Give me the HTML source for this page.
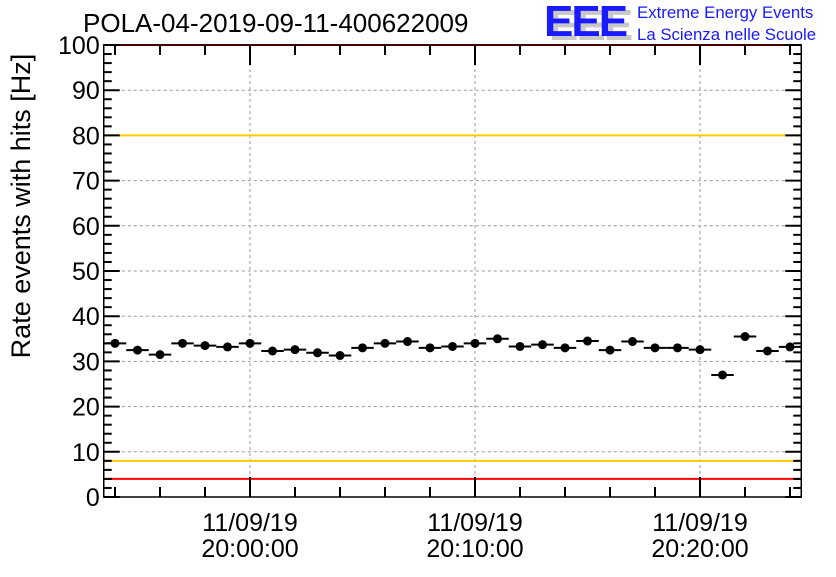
<!DOCTYPE html>
<html><head><meta charset="utf-8"><style>
body{margin:0;background:#fff;}
svg text{font-family:"Liberation Sans",sans-serif;}
</style></head><body>
<svg id="c" width="836" height="572" xmlns="http://www.w3.org/2000/svg">
<rect width="836" height="572" fill="#fff"/>
<text x="83" y="32" font-size="26">POLA-04-2019-09-11-400622009</text>
<g>
<text x="549" y="40" font-size="44" font-weight="bold" fill="#c8c8c8" letter-spacing="-2">EEE</text>
<text x="544" y="36" font-size="44" font-weight="bold" fill="#1a1aff" letter-spacing="-2">EEE</text>
<text x="637" y="18" font-size="16.8" fill="#1a1aff">Extreme Energy Events</text>
<text x="637" y="40" font-size="16.8" fill="#1a1aff">La Scienza nelle Scuole</text>
</g>
<text transform="translate(30,206) rotate(-90)" text-anchor="middle" font-size="27">Rate events with hits [Hz]</text>
<g id="grid"></g><g id="marks"></g><g id="axes"></g>
</svg>
<script>
const minutes=[-6,-5,-4,-3,-2,-1,0,1,2,3,4,5,6,7,8,9,10,11,12,13,14,15,16,17,18,19,20,21,22,23,24];
const rates=[34,32.5,31.5,34,33.5,33.2,34,32.3,32.6,31.9,31.3,33,34,34.4,33,33.3,34,35,33.3,33.7,33,34.5,32.5,34.4,33,33,32.6,27,35.5,32.3,33.2];
const yTicks=[0,10,20,30,40,50,60,70,80,90,100];
const xTickMinutes=[0,10,20];
const xTickLabels=["20:00:00","20:10:00","20:20:00"];
const xDateLabel="11/09/19";
const refLines=[{v:100,c:"#ff0000"},{v:80,c:"#ffcc00"},{v:8,c:"#ffcc00"},{v:4,c:"#ff0000"}];
const L=103.75,R=801.25,T=45,B=497,xmin=-6.5,xmax=24.5;
const X=t=>L+(t-xmin)/(xmax-xmin)*(R-L);
const Y=v=>B-v/100*(B-T);
const NS="http://www.w3.org/2000/svg";
function mk(p,tag,at){const e=document.createElementNS(NS,tag);for(const k in at)e.setAttribute(k,at[k]);p.appendChild(e);return e;}
const grid=document.getElementById('grid'),marks=document.getElementById('marks'),axes=document.getElementById('axes');
yTicks.forEach(v=>{if(v>0&&v<100){const l=mk(grid,'line',{x1:L,x2:R,y1:Y(v),y2:Y(v),stroke:'#999','stroke-dasharray':'3,3','stroke-width':1});

}});
xTickMinutes.forEach(t=>{const l=mk(grid,'line',{x1:X(t),x2:X(t),y1:T,y2:B,stroke:'#999','stroke-dasharray':'3,3','stroke-width':1});

});
refLines.forEach(r=>{const l=mk(grid,'line',{x1:L,x2:R,y1:Y(r.v),y2:Y(r.v),stroke:r.c,'stroke-width':2});

});
minutes.forEach((t,i)=>{const g=mk(marks,'g',{});


mk(g,'line',{x1:X(t-0.5),x2:X(t+0.5),y1:Y(rates[i]),y2:Y(rates[i]),stroke:'#000','stroke-width':2});
mk(g,'circle',{cx:X(t),cy:Y(rates[i]),r:4.5,fill:'#000'});});
const f=mk(axes,'rect',{x:L,y:T,width:R-L,height:B-T,fill:'none',stroke:'#000','stroke-width':1.5});


for(let v=0;v<=100;v+=2){const major=v%10===0,len=major?16:8;
mk(axes,'line',{x1:L,x2:L+len,y1:Y(v),y2:Y(v),stroke:'#000','stroke-width':2});
mk(axes,'line',{x1:R-len,x2:R,y1:Y(v),y2:Y(v),stroke:'#000','stroke-width':2});}
yTicks.forEach(v=>{const t=mk(axes,'text',{x:L-4,y:Y(v)+9,'text-anchor':'end','font-size':25});t.textContent=v;

});
for(let m=-6;m<=24;m+=2){const major=xTickMinutes.includes(m),len=major?20:10;
mk(axes,'line',{x1:X(m),x2:X(m),y1:B,y2:B-len,stroke:'#000','stroke-width':2});
mk(axes,'line',{x1:X(m),x2:X(m),y1:T,y2:T+len,stroke:'#000','stroke-width':2});}
xTickMinutes.forEach((m,i)=>{const t1=mk(axes,'text',{x:X(m),y:531,'text-anchor':'middle','font-size':25});t1.textContent=xDateLabel;


const t2=mk(axes,'text',{x:X(m),y:557,'text-anchor':'middle','font-size':25});t2.textContent=xTickLabels[i];

});
</script>
</body></html>
